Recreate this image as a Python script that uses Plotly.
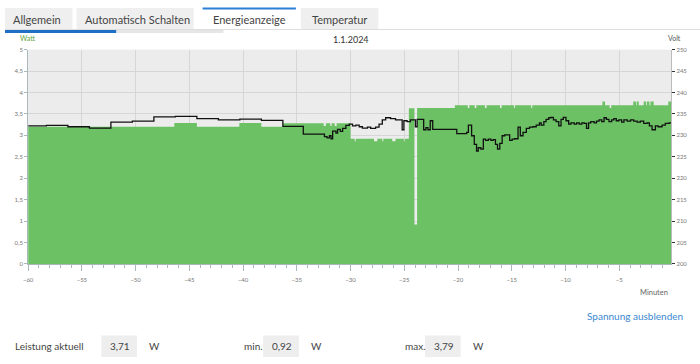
import plotly.graph_objects as go

W, H = 700, 364

# ---------------- data ----------------
watt_t = [-60, -46.4, -44.3, -40.35, -38.3, -36.3,
          -32.5, -32.3, -31.88, -31.76, -31.48, -31.3,
          -30.0, -29.61, -29.52, -27.82, -27.51, -27.05, -26.95, -26.12, -25.82, -25.04, -24.95,
          -24.58, -24.06, -23.81, -20.3,
          -19.1, -18.95, -18.45, -18.3, -17.5, -17.35, -16.1, -15.95, -14.8, -14.7, -13.2, -13.1,
          -6.57, -6.33, -5.9, -5.75, -3.70, -3.45, -3.38, -3.19,
          -2.73, -2.5, -2.42, -2.2, -2.1, -1.8, -0.44, -0.17]
watt_v = [3.20, 3.29, 3.20, 3.29, 3.20, 3.28,
          3.22, 3.28, 3.22, 3.28, 3.22, 3.28,
          2.92, 2.86, 2.92, 2.86, 2.92, 2.86, 2.92, 2.86, 2.92, 2.86, 2.92,
          3.63, 0.92, 3.64, 3.70,
          3.64, 3.70, 3.64, 3.70, 3.64, 3.70, 3.64, 3.70, 3.64, 3.70, 3.64, 3.70,
          3.79, 3.70, 3.64, 3.70, 3.79, 3.70, 3.79, 3.70,
          3.79, 3.70, 3.79, 3.70, 3.79, 3.70, 3.79, 3.79]

volt_t = [-60.0, -58.3, -56.3, -54.3, -52.3, -50.3, -48.3, -46.3, -44.3, -42.3, -40.3, -38.3, -36.3,
          -34.4, -32.43, -32.19, -31.97, -31.82, -31.67, -31.36, -31.21, -30.96, -30.74, -30.44,
          -30.12, -29.82, -29.51, -29.2, -28.9, -28.43, -28.13, -27.67, -27.35, -27.05, -26.74,
          -26.28, -25.82, -25.2, -25.04, -24.74, -24.43, -23.97, -23.81, -23.2, -22.99, -22.8,
          -22.59, -22.36, -20.12, -19.2, -19.04, -18.74, -18.49, -18.28, -18.12, -17.88, -17.65,
          -17.44, -17.19, -16.95, -16.73, -16.52, -16.33, -16.12, -15.9, -15.66, -15.2, -14.97,
          -14.73, -14.42, -14.21, -13.96, -13.65, -13.35, -13.04, -12.73, -12.43, -12.27, -12.02,
          -11.81, -11.56, -11.35, -11.13, -10.88, -10.63, -10.42, -10.21, -9.96, -9.71, -9.5,
          -9.19, -8.97, -8.73, -8.48, -8.27, -8.05, -7.86, -7.65, -7.34, -7.12, -6.88, -6.63,
          -6.42, -6.2, -5.96, -5.71, -5.5, -5.28, -5.04, -4.78, -4.57, -4.26, -3.95, -3.66,
          -3.34, -3.04, -2.73, -2.41, -2.2, -1.95, -1.64, -1.39, -1.02, -0.72, -0.35, -0.17]
volt_v = [232.2, 232.3, 232.0, 231.7, 233.1, 233.3, 234.3, 234.4, 233.9, 233.6, 233.8, 233.5, 232.1,
          230.3, 229.7, 229.4, 229.9, 229.2, 231.0, 230.5, 231.4, 230.9, 231.6, 232.3,
          232.6, 232.2, 232.4, 232.0, 231.7, 231.9, 231.6, 231.9, 232.6, 233.6, 234.1,
          233.9, 233.6, 231.3, 233.4, 233.2, 233.6, 232.0, 233.7, 231.3, 231.8, 231.3,
          233.4, 231.4, 230.4, 230.7, 232.4, 229.9, 227.9, 226.3, 227.1, 226.8, 229.1,
          228.8, 229.1, 228.8, 229.0, 227.9, 226.8, 228.1, 229.9, 230.1, 228.8, 229.1,
          229.2, 231.9, 229.9, 230.7, 231.6, 231.9, 232.0, 232.4, 232.9, 232.4, 233.2,
          233.7, 234.1, 234.2, 233.6, 233.2, 232.2, 233.7, 234.2, 233.4, 232.6, 232.9,
          232.6, 232.9, 232.6, 232.9, 232.8, 231.6, 232.9, 233.2, 232.9, 233.3, 233.6, 233.2,
          234.1, 233.7, 233.2, 233.6, 233.9, 233.4, 233.6, 233.1, 233.6, 233.3, 233.6, 233.3,
          233.1, 233.3, 232.8, 232.9, 232.2, 231.3, 232.2, 232.0, 232.4, 232.8, 232.9, 232.9]

tabs = ["Allgemein", "Automatisch Schalten", "Energieanzeige", "Temperatur"]
date_label = "1.1.2024"
stat_labels = ["Leistung aktuell", "min.", "max."]
stat_values = ["3,71", "0,92", "3,79"]
stat_unit = "W"

# ---------------- helpers (pixel -> paper) ----------------
def px(x):
    return x / W

def py(y):
    return 1 - y / H

FONT = "Lato, 'Open Sans', sans-serif"
GREEN = "#6cc164"

fig = go.Figure()
fig.add_trace(go.Scatter(x=watt_t, y=watt_v, mode="lines", line=dict(shape="hv", width=0, color=GREEN),
                         fill="tozeroy", fillcolor=GREEN, hoverinfo="skip", showlegend=False))
fig.add_trace(go.Scatter(x=volt_t, y=volt_v, mode="lines", yaxis="y2",
                         line=dict(shape="hv", width=1.3, color="#111111"), showlegend=False))

PL, PR, PT, PB = 23.3, 671, 46.5, 265

tickfont = dict(family=FONT, size=6, color="#777777")
fig.update_layout(
    width=W, height=H, margin=dict(l=0, r=0, t=0, b=0),
    paper_bgcolor="white", plot_bgcolor="#ececec",
    separators=",.",
    font=dict(family=FONT),
    xaxis=dict(domain=[px(PL), px(PR)], range=[-60, -0.17], tick0=-60, dtick=5,
               showgrid=True, gridcolor="#d6d6d6", gridwidth=1, zeroline=False,
               ticks="outside", ticklen=6, tickcolor="#a9b9b9", tickwidth=1,
               minor=dict(dtick=1, ticks="outside", ticklen=3, tickcolor="#a9b9b9", showgrid=False),
               showline=True, linecolor="#a9b9b9", linewidth=1,
               tickfont=tickfont, ticklabelstandoff=4),
    yaxis=dict(domain=[py(PB), py(PT)], range=[0, 5], dtick=0.5, tick0=0,
               showgrid=True, gridcolor="#d6d6d6", gridwidth=1, zeroline=False,
               ticks="outside", ticklen=3, tickcolor="#a9b9b9",
               showline=True, linecolor="#a9b9b9", linewidth=1,
               tickfont=tickfont),
    yaxis2=dict(overlaying="y", side="right", range=[200, 250], dtick=5, tick0=200,
                showgrid=False, zeroline=False, ticks="outside", ticklen=3, tickcolor="#333333",
                showline=True, linecolor="#bbbbbb", linewidth=1,
                tickfont=tickfont, anchor="x"),
)

shapes = []
annotations = []

# tabs
tab_boxes = [(0, 68), (72, 190), (199, 293), (298, 376)]
tab_centers = [32, 133, 246, 337]
shapes.append(dict(type="line", xref="paper", yref="paper", x0=0, x1=1, y0=py(26), y1=py(26),
                   line=dict(color="#dddddd", width=1)))
for i, (a, b) in enumerate(tab_boxes):
    active = (i == 2)
    shapes.append(dict(type="rect", xref="paper", yref="paper", x0=px(a), x1=px(b), y0=py(26), y1=py(4),
                       fillcolor="white" if active else "#efefef", line=dict(width=0), layer="below"))
    if active:
        shapes.append(dict(type="line", xref="paper", yref="paper", x0=px(a), x1=px(b), y0=py(4.5), y1=py(4.5),
                           line=dict(color="#2d7fd6", width=2)))
    annotations.append(dict(xref="paper", yref="paper", x=px(tab_centers[i]), y=py(16), text=tabs[i],
                            showarrow=False, xanchor="center", yanchor="middle",
                            font=dict(family=FONT, size=11, color="#444444")))
shapes.append(dict(type="rect", xref="paper", yref="paper", x0=px(112), x1=px(220), y0=py(29.5), y1=py(26.5),
                   fillcolor="#e6e6e6", line=dict(width=0)))
shapes.append(dict(type="rect", xref="paper", yref="paper", x0=0, x1=px(112), y0=py(29.5), y1=py(26.5),
                   fillcolor="#1f6fc5", line=dict(width=0)))

# axis titles & texts
annotations.append(dict(xref="paper", yref="paper", x=px(13), y=py(35), text="Watt", showarrow=False,
                        xanchor="left", yanchor="middle", font=dict(family=FONT, size=7, color="#5ea63c")))
annotations.append(dict(xref="paper", yref="paper", x=px(683), y=py(35), text="Volt", showarrow=False,
                        xanchor="right", yanchor="middle", font=dict(family=FONT, size=7, color="#555555")))
annotations.append(dict(xref="paper", yref="paper", x=px(348), y=py(36), text=date_label, showarrow=False,
                        xanchor="center", yanchor="middle", font=dict(family=FONT, size=9, color="#333333")))
annotations.append(dict(xref="paper", yref="paper", x=px(670), y=py(294), text="Minuten", showarrow=False,
                        xanchor="right", yanchor="middle", font=dict(family=FONT, size=7.5, color="#666666")))
annotations.append(dict(xref="paper", yref="paper", x=px(685), y=py(318), text="Spannung ausblenden",
                        showarrow=False, xanchor="right", yanchor="middle",
                        font=dict(family=FONT, size=10, color="#3a87d0")))

# bottom stats row
label_x = [8, 239, 401]
box_x = [(97, 133), (260, 296), (423, 459)]
unit_x = [143, 306, 469]
for i in range(3):
    annotations.append(dict(xref="paper", yref="paper", x=px(label_x[i]), y=py(349), text=stat_labels[i],
                            showarrow=False, xanchor="left", yanchor="middle",
                            font=dict(family=FONT, size=10, color="#444444")))
    a, b = box_x[i]
    shapes.append(dict(type="rect", xref="paper", yref="paper", x0=px(a), x1=px(b), y0=py(360), y1=py(338),
                       fillcolor="#eeeeee", line=dict(width=0)))
    annotations.append(dict(xref="paper", yref="paper", x=px(a + 7), y=py(349), text=stat_values[i],
                            showarrow=False, xanchor="left", yanchor="middle",
                            font=dict(family=FONT, size=10, color="#444444")))
    annotations.append(dict(xref="paper", yref="paper", x=px(unit_x[i]), y=py(349), text=stat_unit,
                            showarrow=False, xanchor="left", yanchor="middle",
                            font=dict(family=FONT, size=10, color="#444444")))

fig.update_layout(shapes=shapes, annotations=annotations)
fig.write_html("out.html", config={"displayModeBar": False},
               post_script="document.documentElement.style.margin='0';document.body.style.margin='0';"
                           "document.body.style.padding='0';document.body.style.overflow='hidden';")
